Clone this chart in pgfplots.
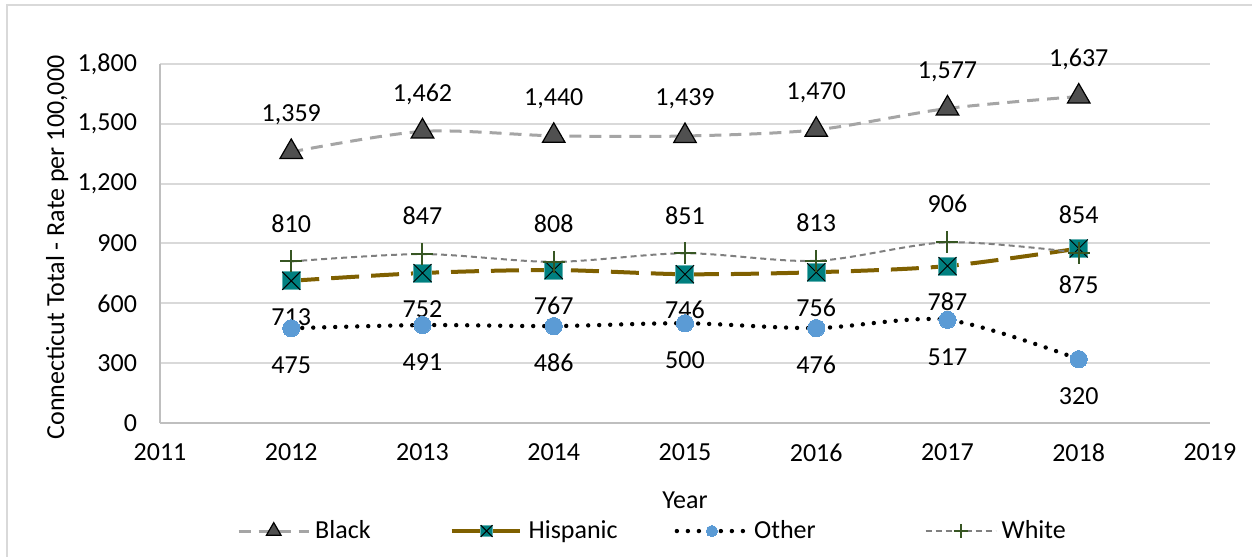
\documentclass[border=0pt]{standalone}
\usepackage{pgfplots}
\pgfplotsset{compat=1.18}
\usepackage{fontspec}
\setmainfont{Carlito}
\usetikzlibrary{plotmarks}
\definecolor{blkline}{HTML}{A5A5A5}
\definecolor{blkmark}{HTML}{505050}
\definecolor{hisline}{HTML}{7F6000}
\definecolor{hismark}{HTML}{008080}
\definecolor{othmark}{HTML}{5B9BD5}
\definecolor{whiline}{HTML}{7F7F7F}
\definecolor{whimark}{HTML}{375623}
\definecolor{gridc}{HTML}{D9D9D9}
\definecolor{axc}{HTML}{BFBFBF}
\pgfdeclareplotmark{sqx}{%
  \pgfpathrectangle{\pgfpoint{-\pgfplotmarksize}{-\pgfplotmarksize}}{\pgfpoint{2\pgfplotmarksize}{2\pgfplotmarksize}}%
  \pgfsetfillcolor{hismark}\pgfsetstrokecolor{hismark!60!white}\pgfsetlinewidth{0.5bp}%
  \pgfusepathqfillstroke
  \pgfpathmoveto{\pgfpoint{-\pgfplotmarksize}{-\pgfplotmarksize}}%
  \pgfpathlineto{\pgfpoint{\pgfplotmarksize}{\pgfplotmarksize}}%
  \pgfpathmoveto{\pgfpoint{-\pgfplotmarksize}{\pgfplotmarksize}}%
  \pgfpathlineto{\pgfpoint{\pgfplotmarksize}{-\pgfplotmarksize}}%
  \pgfsetstrokecolor{black}\pgfsetlinewidth{0.5bp}%
  \pgfusepathqstroke
}
\begin{document}
\fontsize{13bp}{15.6bp}\selectfont
\begin{tikzpicture}
\useasboundingbox (0,0) rectangle (626bp,278.5bp);
\draw[gridc, line width=1bp] (3.5bp,0) -- (3.5bp,276bp) -- (630bp,276bp);
\begin{axis}[
  at={(80bp,67bp)}, anchor=south west,
  scale only axis, width=525bp, height=179.5bp,
  xmin=2011, xmax=2019, ymin=0, ymax=1800,
  xtick={2011,...,2019}, ytick={0,300,...,1800},
  /pgf/number format/assume math mode=true,
  xticklabel style={/pgf/number format/1000 sep={}, yshift=-6bp},
  yticklabel style={/pgf/number format/1000 sep={,}, xshift=-7bp},
  major tick length=0pt,
  ymajorgrids, grid style={gridc, line width=1bp},
  axis x line*=bottom, axis y line*=left,
  axis line style={axc, line width=1bp, -},
  ticklabel style={font=\fontsize{13bp}{15.6bp}\selectfont},
  xlabel={Year}, ylabel={Connecticut Total - Rate per 100,000},
  xlabel style={at={(axis description cs:0.5,-0.2145)}, anchor=center},
  ylabel style={at={(axis description cs:-0.098,0.489)}, anchor=center, rotate=0},
  label style={font=\fontsize{13bp}{15.6bp}\selectfont},
  nodes near coords={\pgfmathprintnumber[1000 sep={,},fixed,precision=0]{\pgfplotspointmeta}},
  nodes near coords style={font=\fontsize{13bp}{15.6bp}\selectfont, anchor=center, black},
  legend columns=4,
  legend style={at={(axis description cs:0.4705,-0.301)}, anchor=center, draw=none, fill=none,
    font=\fontsize{13bp}{15.6bp}\selectfont, inner sep=0pt,
    nodes={inner xsep=2.5bp, inner ysep=0pt},
    /tikz/every even column/.append style={column sep=0pt}},
  legend cell align=left,
  legend image code/.code={%
    \draw[#1, mark=none] (0bp,0bp) -- (35bp,0bp);
    \draw[#1, only marks, every mark/.append style={scale=0.65}] plot coordinates {(17.5bp,0bp)};
  },
]
\addplot[blkline, line width=1.5bp, dash pattern=on 6bp off 4bp, smooth,
  mark=triangle*, mark size=6.5bp, mark options={solid, fill=blkmark, draw=black, line width=0.6bp},
  every node near coord/.append style={yshift=18.5bp}]
  coordinates {(2012,1359) (2013,1462) (2014,1440) (2015,1439) (2016,1470) (2017,1577) (2018,1637)};
\addlegendentry{Black\rule{37bp}{0pt}}
\addplot[hisline, line width=2bp, dash pattern=on 14bp off 6bp, smooth,
  mark=sqx, mark size=4.5bp, mark options={solid},
  every node near coord/.append style={yshift=-18bp}]
  coordinates {(2012,713) (2013,752) (2014,767) (2015,746) (2016,756) (2017,787) (2018,875)};
\addlegendentry{Hispanic\rule{26bp}{0pt}}
\addplot[black, line width=2.2bp, dash pattern=on 0bp off 5.5bp, line cap=round, smooth,
  mark=*, mark size=4.3bp, mark options={solid, fill=othmark, draw=othmark, line width=0pt},
  every node near coord/.append style={yshift=-18.5bp}]
  coordinates {(2012,475) (2013,491) (2014,486) (2015,500) (2016,476) (2017,517) (2018,320)};
\addlegendentry{Other\rule{52bp}{0pt}}
\addplot[whiline, line width=1bp, dash pattern=on 3bp off 2bp, smooth,
  mark=+, mark size=5.5bp, mark options={solid, draw=whimark, line width=1bp},
  every node near coord/.append style={yshift=19bp}]
  coordinates {(2012,810) (2013,847) (2014,808) (2015,851) (2016,813) (2017,906) (2018,854)};
\addlegendentry{White}
\end{axis}
\end{tikzpicture}
\end{document}
